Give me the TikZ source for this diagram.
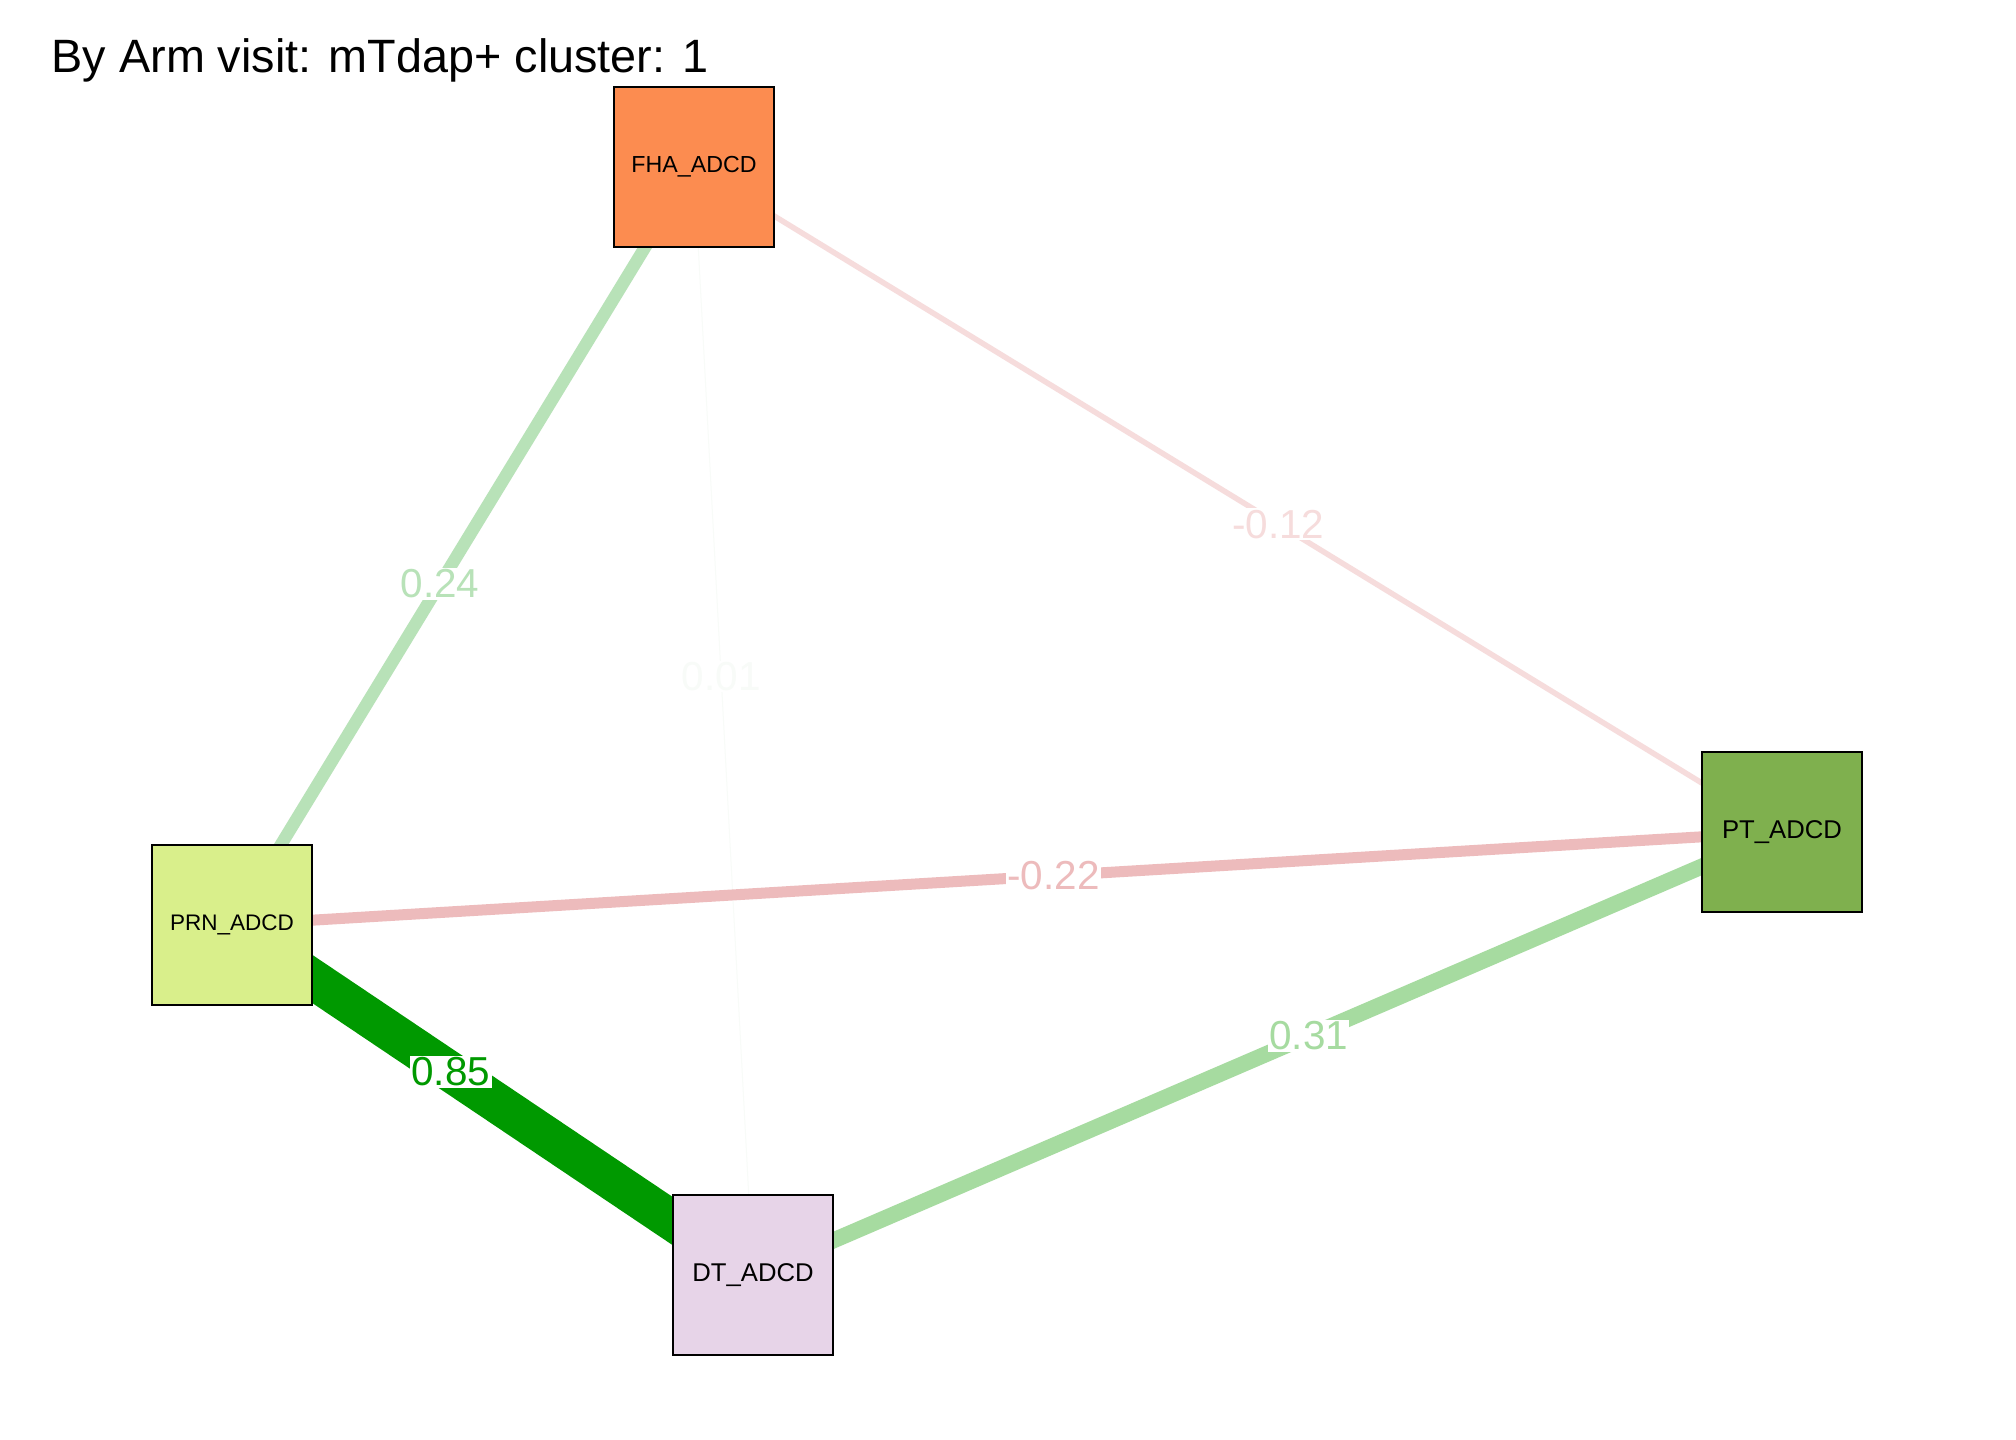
\documentclass[tikz,border=0pt]{standalone}
\usepackage{fontspec}
\setmainfont{Liberation Sans}
\usetikzlibrary{backgrounds}

\definecolor{fhacol}{HTML}{FC8C50}
\definecolor{prncol}{HTML}{D9EF8B}
\definecolor{ptcol}{HTML}{7FB04E}
\definecolor{dtcol}{HTML}{E7D4E8}
\definecolor{posstrong}{HTML}{009900}
\definecolor{posmid}{HTML}{A6DBA0}
\definecolor{poslight}{HTML}{B8E2B8}
\definecolor{posfaint}{HTML}{F8FBF8}
\definecolor{negmid}{HTML}{EDBBBC}
\definecolor{neglight}{HTML}{F6DCDC}

\tikzset{
  vbox/.style={draw=black, line width=0.8pt, minimum size=1.6cm, inner sep=0pt},
  elabel/.style={fill=white, inner sep=0.4pt, font=\fontsize{11.5}{12}\selectfont},
}

\begin{document}
\begin{tikzpicture}[x=0.01cm, y=-0.01cm]
    \useasboundingbox (0,0) rectangle (2016,1440);
    \node[anchor=base west, inner sep=0pt, font=\fontsize{13.3}{16}\selectfont] (title) at (51,73) {By Arm visit: mTdap+ cluster: 1};

    \node[vbox, fill=fhacol, font=\fontsize{6.6}{8}\selectfont] (fha) at (694,167)  {FHA\_ADCD};
    \node[vbox, fill=prncol, font=\fontsize{6.4}{8}\selectfont] (prn) at (232,925)  {PRN\_ADCD};
    \node[vbox, fill=ptcol,  font=\fontsize{7.3}{8}\selectfont] (pt)  at (1782,832) {PT\_ADCD};
    \node[vbox, fill=dtcol,  font=\fontsize{7.3}{8}\selectfont] (dt)  at (753,1275) {DT\_ADCD};

    \begin{scope}[on background layer]
    \fill[white] (0,0) rectangle (2016,1440);
    \draw[posfaint, line width=0.01cm]  (fha.center) -- node[elabel, pos=0.46, text=posfaint]  {0.01}  (dt.center);
    \draw[neglight, line width=0.055cm] (fha.center) -- node[elabel, pos=0.537, text=neglight] {-0.12} (pt.center);
    \draw[poslight, line width=0.125cm] (fha.center) -- node[elabel, pos=0.55, text=poslight]  {0.24}  (prn.center);
    \draw[negmid,   line width=0.11cm]  (prn.center) -- node[elabel, pos=0.53, text=negmid]    {-0.22} (pt.center);
    \draw[posmid,   line width=0.16cm]  (dt.center)  -- node[elabel, pos=0.54, text=posmid]    {0.31}  (pt.center);
    \draw[posstrong, line width=0.4cm]  (prn.center) -- node[elabel, pos=0.42, text=posstrong] {0.85}  (dt.center);
    \end{scope}
  \end{tikzpicture}
\end{document}
